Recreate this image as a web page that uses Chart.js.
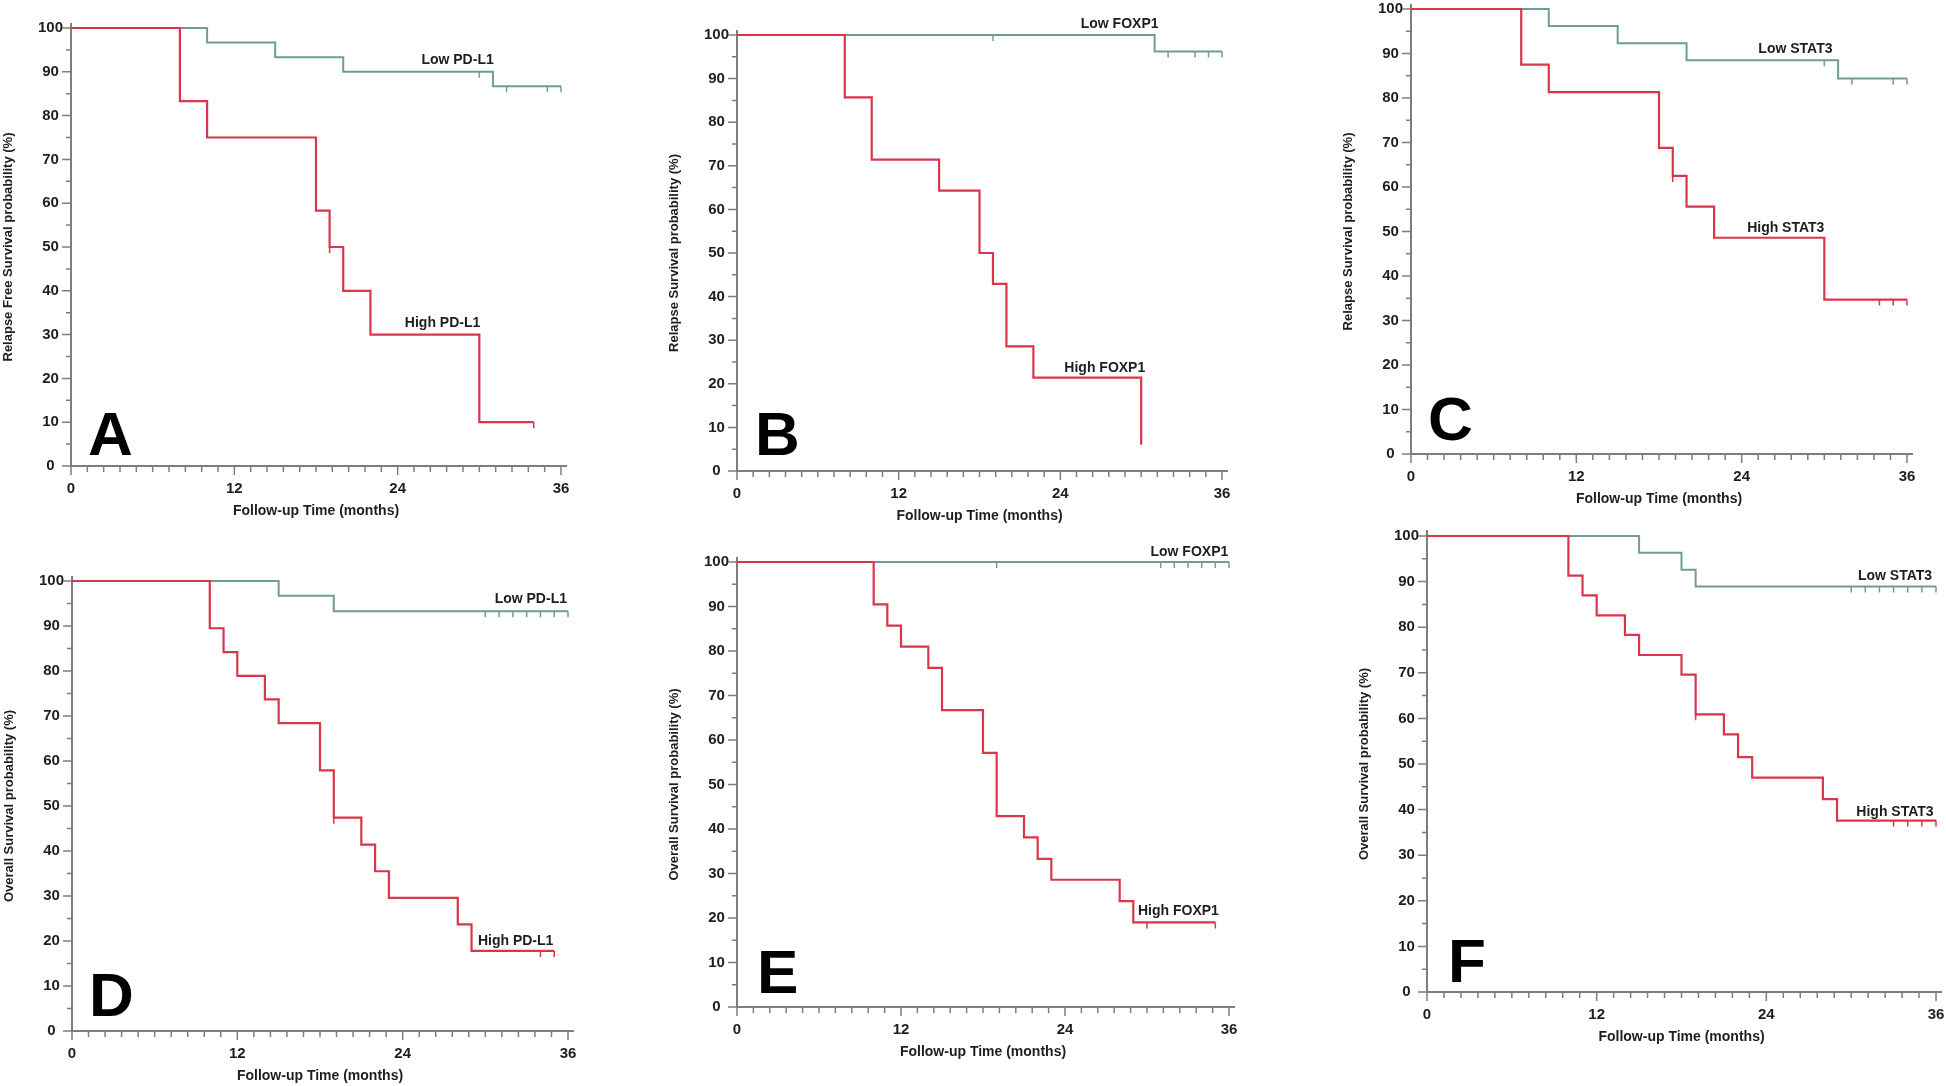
<!DOCTYPE html>
<html>
<head>
<meta charset="utf-8">
<script src="https://cdn.jsdelivr.net/npm/chart.js@4.4.1/dist/chart.umd.min.js"></script>
<style>
  html, body { margin: 0; padding: 0; background: #fff; }
  body { width: 1946px; height: 1086px; position: relative; overflow: hidden; }
  canvas { position: absolute; }
</style>
</head>
<body>
<script>
// ---- data (months, % surviving) ----
// A: relapse free survival, PD-L1
const aHighTimes = [0, 8, 10, 18, 19, 20, 22, 30, 34];
const aHighSurv  = [100, 83.3, 75, 58.3, 50, 40, 30, 10, 10];
const aHighCens  = [19, 34];
const aLowTimes  = [0, 10, 15, 20, 31, 36];
const aLowSurv   = [100, 96.7, 93.3, 90, 86.7, 86.7];
const aLowCens   = [30, 32, 35, 36];

// B: relapse survival, FOXP1
const bHighTimes = [0, 8, 10, 15, 18, 19, 20, 22, 30];
const bHighSurv  = [100, 85.7, 71.4, 64.3, 50, 42.9, 28.6, 21.4, 6];
const bHighCens  = [];
const bLowTimes  = [0, 31, 36];
const bLowSurv   = [100, 96.2, 96.2];
const bLowCens   = [19, 32, 34, 35, 36];

// C: relapse survival, STAT3
const cHighTimes = [0, 8, 10, 18, 19, 20, 22, 30, 36];
const cHighSurv  = [100, 87.5, 81.3, 68.8, 62.5, 55.6, 48.6, 34.7, 34.7];
const cHighCens  = [19, 34, 35, 36];
const cLowTimes  = [0, 10, 15, 20, 31, 36];
const cLowSurv   = [100, 96.2, 92.3, 88.5, 84.4, 84.4];
const cLowCens   = [30, 32, 35, 36];

// D: overall survival, PD-L1
const dHighTimes = [0, 10, 11, 12, 14, 15, 18, 19, 21, 22, 23, 28, 29, 35];
const dHighSurv  = [100, 89.5, 84.2, 78.9, 73.7, 68.4, 57.9, 47.4, 41.4, 35.5, 29.6, 23.7, 17.8, 17.8];
const dHighCens  = [19, 34, 35];
const dLowTimes  = [0, 15, 19, 36];
const dLowSurv   = [100, 96.7, 93.3, 93.3];
const dLowCens   = [30, 31, 32, 33, 34, 35, 36];

// E: overall survival, FOXP1
const eHighTimes = [0, 10, 11, 12, 14, 15, 18, 19, 21, 22, 23, 28, 29, 35];
const eHighSurv  = [100, 90.5, 85.7, 81.0, 76.2, 66.7, 57.1, 42.9, 38.1, 33.3, 28.6, 23.8, 19.0, 19.0];
const eHighCens  = [30, 35];
const eLowTimes  = [0, 36];
const eLowSurv   = [100, 100];
const eLowCens   = [19, 31, 32, 33, 34, 35, 36];

// F: overall survival, STAT3
const fHighTimes = [0, 10, 11, 12, 14, 15, 18, 19, 21, 22, 23, 28, 29, 36];
const fHighSurv  = [100, 91.3, 87.0, 82.6, 78.3, 73.9, 69.6, 60.9, 56.5, 51.5, 47.0, 42.3, 37.6, 37.6];
const fHighCens  = [19, 33, 34, 35, 36];
const fLowTimes  = [0, 15, 18, 19, 36];
const fLowSurv   = [100, 96.3, 92.6, 88.9, 88.9];
const fLowCens   = [30, 31, 32, 33, 34, 35, 36];

// tick labels
const xTickLabels = [0, 12, 24, 36];
const yTickLabels = [0, 10, 20, 30, 40, 50, 60, 70, 80, 90, 100];
const xTitle = 'Follow-up Time (months)';

const RED = '#d8364a';
const GREEN = '#6e9e8e';
const AXIS = '#7d7d7d';
const TXT = '#1e1e1e';
const FONT = "'Liberation Sans', Arial, sans-serif";

// panel placement on the page (pixel positions of x=0, x=36, y=100, y=0)
const panels = [
  { letter: 'A', left: 71, x36: 561, y100: 28, bottom: 466, ldx: 17, ldy: 11,
    yTitle: 'Relapse Free Survival probability (%)',
    high: [aHighTimes, aHighSurv, aHighCens], low: [aLowTimes, aLowSurv, aLowCens],
    highName: 'High PD-L1', highAt: [27.3, 32.7], lowName: 'Low PD-L1', lowAt: [28.4, 92.7] },
  { letter: 'B', left: 737, x36: 1222, y100: 35, bottom: 471, ldx: 18, ldy: 16,
    yTitle: 'Relapse Survival probability (%)',
    high: [bHighTimes, bHighSurv, bHighCens], low: [bLowTimes, bLowSurv, bLowCens],
    highName: 'High FOXP1', highAt: [27.3, 23.6], lowName: 'Low FOXP1', lowAt: [28.4, 102.4] },
  { letter: 'C', left: 1411, x36: 1907, y100: 9, bottom: 454, ldx: 17, ldy: 14,
    yTitle: 'Relapse Survival probability (%)',
    high: [cHighTimes, cHighSurv, cHighCens], low: [cLowTimes, cLowSurv, cLowCens],
    highName: 'High STAT3', highAt: [27.2, 50.7], lowName: 'Low STAT3', lowAt: [27.9, 90.9] },
  { letter: 'D', left: 72, x36: 568, y100: 581, bottom: 1031, ldx: 17, ldy: 15,
    yTitle: 'Overall Survival probability (%)',
    high: [dHighTimes, dHighSurv, dHighCens], low: [dLowTimes, dLowSurv, dLowCens],
    highName: 'High PD-L1', highAt: [32.2, 20.0], lowName: 'Low PD-L1', lowAt: [33.3, 96.0] },
  { letter: 'E', left: 737, x36: 1229, y100: 562, bottom: 1007, ldx: 20, ldy: 14,
    yTitle: 'Overall Survival probability (%)',
    high: [eHighTimes, eHighSurv, eHighCens], low: [eLowTimes, eLowSurv, eLowCens],
    highName: 'High FOXP1', highAt: [32.3, 21.6], lowName: 'Low FOXP1', lowAt: [33.1, 102.3] },
  { letter: 'F', left: 1427, x36: 1936, y100: 536, bottom: 992, ldx: 21, ldy: 10,
    yTitle: 'Overall Survival probability (%)',
    high: [fHighTimes, fHighSurv, fHighCens], low: [fLowTimes, fLowSurv, fLowCens],
    highName: 'High STAT3', highAt: [33.1, 39.4], lowName: 'Low STAT3', lowAt: [33.1, 91.1] }
];

// tick positions: every 1.2 months on x, every 5 % on y
const xTickVals = [];
for (let i = 0; i <= 30; i++) xTickVals.push(i * 12 / 10);
const yTickVals = [];
for (let i = 0; i <= 20; i++) yTickVals.push(i * 5);

function stepPoints(times, surv) {
  return times.map((t, i) => ({ x: t, y: surv[i] }));
}
function survAt(times, surv, t) {
  let v = surv[0];
  for (let i = 0; i < times.length; i++) if (times[i] <= t) v = surv[i];
  return v;
}
function censPoints(times, surv, cens) {
  return cens.map(t => ({ x: t, y: survAt(times, surv, t) }));
}

const X_MAX = 36.4, Y_MAX = 101;
const Y_W = 80, X_H = 70;

function makePanel(p) {
  const spanX = (p.x36 - p.left) * X_MAX / 36;
  const spanY = (p.bottom - p.y100) * Y_MAX / 100;
  const areaTop = p.bottom - spanY;
  const cx = p.left - Y_W;
  const cy = Math.floor(areaTop) - 40;
  const W = Math.ceil(Y_W + spanX + 30);
  const H = Math.ceil(p.bottom + X_H - cy);
  const padTop = areaTop - cy;
  const padRight = W - Y_W - spanX;
  const padBottom = H - X_H - (p.bottom - cy);

  const cv = document.createElement('canvas');
  cv.width = W; cv.height = H;
  cv.style.left = cx + 'px'; cv.style.top = cy + 'px';
  cv.style.width = W + 'px'; cv.style.height = H + 'px';
  document.body.appendChild(cv);

  const decor = {
    id: 'decor' + p.letter,
    afterDraw(chart) {
      const { ctx, scales: { x, y } } = chart;
      ctx.save();
      // tick marks
      ctx.strokeStyle = AXIS;
      ctx.lineWidth = 1.5;
      ctx.beginPath();
      x.ticks.forEach(t => {
        const px = x.getPixelForValue(t.value);
        const len = xTickLabels.includes(t.value) ? 9 : 6;
        ctx.moveTo(px, y.bottom);
        ctx.lineTo(px, y.bottom + len);
      });
      y.ticks.forEach(t => {
        const py = y.getPixelForValue(t.value);
        const len = yTickLabels.includes(t.value) ? 9 : 5;
        ctx.moveTo(x.left, py);
        ctx.lineTo(x.left - len, py);
      });
      ctx.stroke();

      ctx.fillStyle = TXT;
      // axis titles
      ctx.font = 'bold 14px ' + FONT;
      ctx.textAlign = 'center';
      ctx.textBaseline = 'middle';
      const midX = (x.getPixelForValue(0) + x.getPixelForValue(36)) / 2;
      ctx.fillText(xTitle, midX, y.bottom + 45);
      ctx.save();
      ctx.translate(x.left - 63, (y.getPixelForValue(0) + y.getPixelForValue(100)) / 2);
      ctx.rotate(-Math.PI / 2);
      ctx.font = 'bold 13px ' + FONT;
      ctx.fillText(p.yTitle, 0, 0);
      ctx.restore();

      // group labels
      ctx.font = 'bold 14px ' + FONT;
      ctx.fillText(p.lowName, x.getPixelForValue(p.lowAt[0]), y.getPixelForValue(p.lowAt[1]));
      ctx.fillText(p.highName, x.getPixelForValue(p.highAt[0]), y.getPixelForValue(p.highAt[1]));

      // panel letter
      ctx.fillStyle = '#000';
      ctx.font = 'bold 62px ' + FONT;
      ctx.textAlign = 'left';
      ctx.textBaseline = 'alphabetic';
      ctx.fillText(p.letter, x.left + p.ldx, y.bottom - p.ldy);
      ctx.restore();
    }
  };

  const [hT, hS, hC] = p.high;
  const [lT, lS, lC] = p.low;

  new Chart(cv, {
    type: 'scatter',
    data: {
      datasets: [
        { data: stepPoints(hT, hS), showLine: true, stepped: 'before',
          borderColor: RED, borderWidth: 2.2, pointRadius: 0 },
        { data: censPoints(hT, hS, hC), showLine: false, pointStyle: 'dash',
          pointRotation: 90, pointRadius: 6, pointBorderColor: RED, pointBorderWidth: 1.5 },
        { data: stepPoints(lT, lS), showLine: true, stepped: 'before',
          borderColor: GREEN, borderWidth: 2, pointRadius: 0 },
        { data: censPoints(lT, lS, lC), showLine: false, pointStyle: 'dash',
          pointRotation: 90, pointRadius: 6, pointBorderColor: GREEN, pointBorderWidth: 1.5 }
      ]
    },
    options: {
      responsive: false,
      animation: false,
      events: [],
      layout: { padding: { left: 0, right: padRight, top: padTop, bottom: padBottom } },
      plugins: { legend: { display: false }, tooltip: { enabled: false } },
      scales: {
        x: {
          type: 'linear', min: 0, max: X_MAX,
          grid: { display: false, drawTicks: false },
          border: { color: AXIS, width: 2 },
          afterFit: s => { s.height = X_H; },
          afterBuildTicks: s => { s.ticks = xTickVals.map(v => ({ value: v })); },
          ticks: {
            autoSkip: false, maxRotation: 0, padding: 14, color: TXT,
            font: { family: FONT, size: 15, weight: 'bold' },
            callback: v => xTickLabels.includes(v) ? String(v) : ''
          }
        },
        y: {
          type: 'linear', min: 0, max: Y_MAX,
          grid: { display: false, drawTicks: false },
          border: { color: AXIS, width: 2 },
          afterFit: s => { s.width = Y_W; },
          afterBuildTicks: s => { s.ticks = yTickVals.map(v => ({ value: v })); },
          ticks: {
            autoSkip: false, padding: 8, crossAlign: 'center', color: TXT,
            font: { family: FONT, size: 15, weight: 'bold' },
            callback: v => yTickLabels.includes(v) ? String(v) : ''
          }
        }
      }
    },
    plugins: [decor]
  });
}

panels.forEach(makePanel);
</script>
</body>
</html>
